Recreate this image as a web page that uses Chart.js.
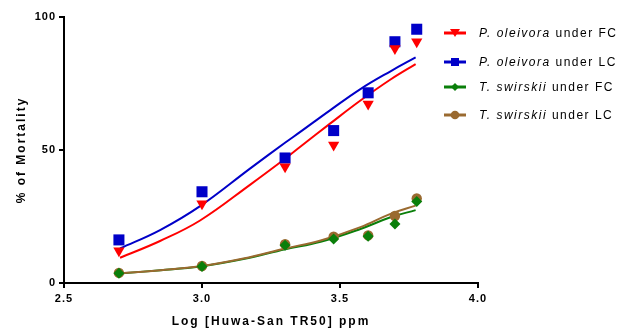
<!DOCTYPE html>
<html><head><meta charset="utf-8">
<script src="https://cdn.jsdelivr.net/npm/chart.js@4/dist/chart.umd.min.js"></script>
<style>
html,body{margin:0;padding:0;background:#fff;}
#wrap{position:relative;width:621px;height:329px;}
#legend{position:absolute;left:444px;top:0;font-family:"Liberation Sans",Arial,sans-serif;font-size:12px;letter-spacing:1.5px;color:#000;}
.item{position:absolute;left:0;white-space:nowrap;display:flex;align-items:center;height:16px;}
.item svg{margin-right:13px;flex:none;}
</style></head>
<body><div id="wrap"><canvas id="c" width="621" height="329"></canvas><div id="legend"></div></div>
<script>
// Observed data: log10 of Huwa-San TR50 concentration (ppm)
const doseLog = [2.699, 3.000, 3.301, 3.477, 3.602, 3.699, 3.778];
const poFC = [12.1, 29.8, 43.7, 51.9, 67.3, 88.2, 90.7];   // P. oleivora under FC
const poLC = [16.2, 34.3, 47.0, 57.3, 71.5, 90.7, 95.4];   // P. oleivora under LC
const tsFC = [3.7, 6.2, 14.2, 16.5, 17.6, 22.2, 30.6];     // T. swirskii under FC
const tsLC = [3.8, 6.4, 14.6, 17.4, 17.9, 25.2, 31.8];     // T. swirskii under LC

// Fitted curves
const fitLogP = [2.703, 2.848, 2.993, 3.175, 3.302, 3.356, 3.465, 3.574, 3.683, 3.774];
const fitPoFC = [9.5, 15.8, 23.5, 37.0, 46.8, 51.2, 60.0, 68.6, 76.5, 82.3];
const fitPoLC = [13.0, 19.9, 28.9, 43.1, 52.8, 56.8, 65.0, 72.9, 79.6, 84.8];
const fitLogT = [2.703, 2.850, 2.993, 3.150, 3.302, 3.430, 3.574, 3.683, 3.774];
const fitTsFC = [3.6, 4.8, 6.2, 9.0, 12.7, 15.5, 20.3, 24.7, 27.4];
const fitTsLC = [3.6, 4.8, 6.3, 9.2, 13.0, 16.0, 21.0, 26.0, 29.1];

const speciesNames = ['P. oleivora', 'P. oleivora', 'T. swirskii', 'T. swirskii'];
const conditionNames = ['under FC', 'under LC', 'under FC', 'under LC'];
const xTicks = [2.5, 3.0, 3.5, 4.0];
const yTicks = [0, 50, 100];

const colors = ['#FF0000', '#0000C8', '#0A7F0A', '#9A6A30'];
const styles = [
  {pointStyle: 'triangle', rotation: 180, radius: 6.5},
  {pointStyle: 'rect', rotation: 0, radius: 7.8},
  {pointStyle: 'rectRot', rotation: 0, radius: 5.5},
  {pointStyle: 'circle', rotation: 0, radius: 5.2}
];

const pts = (xs, ys) => xs.map((x, i) => ({x, y: ys[i]}));
const obs = [poFC, poLC, tsFC, tsLC];
const fits = [[fitLogP, fitPoFC], [fitLogP, fitPoLC], [fitLogT, fitTsFC], [fitLogT, fitTsLC]];

const datasets = [];
const pointOrder = [1, 2, 0, 3];
obs.forEach((ys, i) => {
  datasets.push({
    type: 'scatter',
    label: speciesNames[i] + ' ' + conditionNames[i],
    data: pts(doseLog, ys),
    showLine: false,
    backgroundColor: colors[i],
    borderColor: colors[i],
    borderWidth: 0,
    pointStyle: styles[i].pointStyle,
    rotation: styles[i].rotation,
    pointRadius: styles[i].radius,
    pointHoverRadius: styles[i].radius,
    order: pointOrder[i]
  });
});
fits.forEach((f, i) => {
  datasets.push({
    type: 'line',
    label: 'fit ' + i,
    data: pts(f[0], f[1]),
    borderColor: colors[i],
    borderWidth: 2,
    pointRadius: 0,
    fill: false,
    tension: 0.4,
    order: 10 + (3 - i)
  });
});

const spacingPlugin = {
  id: 'spacing',
  beforeDraw(chart) {
    chart.ctx.letterSpacing = '1px';
    ['x', 'y'].forEach(id => {
      const s = chart.scales[id];
      if (s && !s._wrappedTitle) {
        const orig = s.drawTitle.bind(s);
        s.drawTitle = function() {
          const ctx = this.ctx;
          const prev = ctx.letterSpacing;
          ctx.letterSpacing = '2px';
          orig();
          ctx.letterSpacing = prev;
        };
        s._wrappedTitle = true;
      }
    });
  }
};

const font = {family: '"Liberation Sans", Arial, sans-serif', size: 11, weight: 'bold'};
new Chart(document.getElementById('c'), {
  data: {datasets},
  options: {
    responsive: false,
    animation: false,
    devicePixelRatio: 1,
    layout: {padding: {left: 0, right: 143, top: 17, bottom: 0}},
    plugins: {legend: {display: false}, tooltip: {enabled: false}},
    scales: {
      x: {
        type: 'linear', min: 2.5, max: 4.0,
        afterBuildTicks: s => { s.ticks = xTicks.map(v => ({value: v})); },
        afterFit: s => { s.height = 46; },
        border: {color: '#000', width: 2},
        grid: {drawOnChartArea: false, drawTicks: true, tickLength: 5, color: '#000', lineWidth: 2},
        ticks: {color: '#000', font, padding: 4, maxRotation: 0, callback: v => Number(v).toFixed(1)},
        title: {display: true, text: 'Log [Huwa-San TR50] ppm', color: '#000',
                font: {family: '"Liberation Sans", Arial, sans-serif', size: 12, weight: 'bold'}, padding: {top: 6, bottom: 0}}
      },
      y: {
        type: 'linear', min: 0, max: 100,
        afterBuildTicks: s => { s.ticks = yTicks.map(v => ({value: v})); },
        afterFit: s => { s.width = 64; },
        border: {color: '#000', width: 2},
        grid: {drawOnChartArea: false, drawTicks: true, tickLength: 5, color: '#000', lineWidth: 2},
        ticks: {color: '#000', font, padding: 3},
        title: {display: true, text: '% of Mortality', color: '#000',
                font: {family: '"Liberation Sans", Arial, sans-serif', size: 12, weight: 'bold'}, padding: {top: 14, bottom: 0}}
      }
    }
  },
  plugins: [spacingPlugin]
});

// Legend (mixed italic / normal text)
const legendTops = [33, 62, 87, 115];
const markerSvg = [
  '<polygon points="6,2 16,2 11,10" fill="#FF0000"/>',
  '<rect x="7" y="2" width="8" height="8" fill="#0000C8"/>',
  '<polygon points="11,2 15,6 11,10 7,6" fill="#0A7F0A"/>',
  '<circle cx="11" cy="6" r="4.3" fill="#9A6A30"/>'
];
const leg = document.getElementById('legend');
speciesNames.forEach((sp, i) => {
  const d = document.createElement('div');
  d.className = 'item';
  d.style.top = (legendTops[i] - 8) + 'px';
  d.innerHTML = '<svg width="22" height="12" viewBox="0 0 22 12"><line x1="0" y1="6" x2="22" y2="6" stroke="' + colors[i] + '" stroke-width="3"/>' + markerSvg[i] + '</svg>' +
    '<span><i>' + sp + '</i> ' + conditionNames[i] + '</span>';
  leg.appendChild(d);
});
</script>
</body></html>
